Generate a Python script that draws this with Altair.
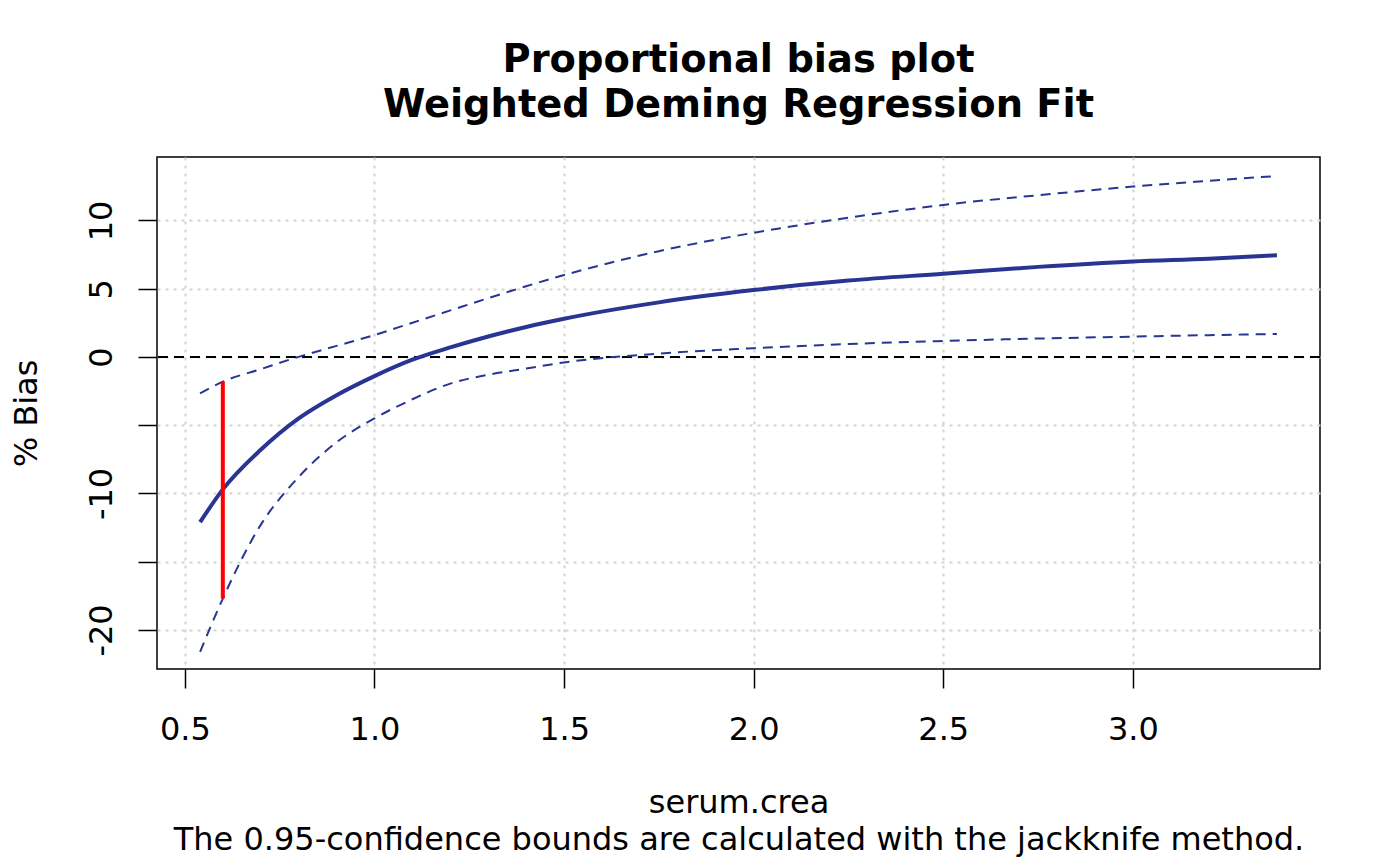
import altair as alt
import pandas as pd

# ---- data ----
serum_crea = [0.54, 0.6, 0.7, 0.8, 0.9, 1.0, 1.1, 1.2, 1.3, 1.4, 1.5, 1.75, 2.0, 2.25, 2.5, 2.75, 3.0, 3.2, 3.38]
bias = [-12.1, -9.7, -6.8, -4.5, -2.8, -1.4, -0.2, 0.7, 1.5, 2.2, 2.8, 4.0, 4.9, 5.6, 6.1, 6.6, 7.0, 7.2, 7.45]
upper = [-2.66, -1.81, -0.89, 0.01, 0.81, 1.61, 2.51, 3.41, 4.31, 5.18, 6.0, 7.75, 9.1, 10.2, 11.14, 11.85, 12.48, 12.91, 13.26]
lower = [-21.6, -17.7, -12.3, -8.8, -6.25, -4.5, -3.1, -1.95, -1.3, -0.85, -0.4, 0.25, 0.64, 0.95, 1.17, 1.35, 1.49, 1.6, 1.68]

mark_x = [0.6]
mark_lo = [-17.7]
mark_hi = [-1.8]

x_ticks = [0.5, 1.0, 1.5, 2.0, 2.5, 3.0]
y_ticks = [-20, -15, -10, -5, 0, 5, 10]

title_lines = ["Proportional bias plot", "Weighted Deming Regression Fit"]
x_title = ["serum.crea", "The 0.95-confidence bounds are calculated with the jackknife method."]
y_title = "% Bias"

df = pd.DataFrame({"x": serum_crea, "bias": bias, "upper": upper, "lower": lower})
seg = pd.DataFrame({"x": mark_x, "lo": mark_lo, "hi": mark_hi})

FONT = "DejaVu Sans"
BLUE = "#283593"

xscale = alt.Scale(domain=[0.4264, 3.4936], nice=False, zero=False)
yscale = alt.Scale(domain=[-22.86, 14.65], nice=False, zero=False)

xaxis = alt.Axis(
    values=x_ticks, format=".1f", title=x_title, domain=False,
    grid=True, gridColor="#D3D3D3", gridDash=[3, 5], gridWidth=2,
    tickSize=19, tickColor="black", tickWidth=1.5,
    labelFont=FONT, labelFontSize=32, labelPadding=26, labelColor="black",
    labelFlush=False, labelOverlap=False,
    titleFont=FONT, titleFontSize=32, titleFontWeight="normal", titleColor="black",
    titlePadding=42, titleLineHeight=37,
)
yaxis = alt.Axis(
    values=y_ticks, title=y_title, domain=False,
    labelExpr="datum.value == -5 || datum.value == -15 ? '' : '' + datum.value",
    grid=True, gridColor="#D3D3D3", gridDash=[3, 5], gridWidth=2,
    tickSize=19, tickColor="black", tickWidth=1.5,
    labelFont=FONT, labelFontSize=32, labelPadding=20, labelColor="black",
    labelAngle=270, labelAlign="center", labelBaseline="bottom",
    labelFlush=False, labelOverlap=False,
    titleFont=FONT, titleFontSize=32, titleFontWeight="normal", titleColor="black",
    titleAngle=270, titleBaseline="bottom", titlePadding=42,
)

base = alt.Chart(df)

main = base.mark_line(color=BLUE, strokeWidth=4, interpolate="monotone").encode(
    x=alt.X("x:Q", scale=xscale, axis=xaxis),
    y=alt.Y("bias:Q", scale=yscale, axis=yaxis),
)
up = base.mark_line(color=BLUE, strokeWidth=2, strokeDash=[10, 7], interpolate="monotone").encode(
    x="x:Q", y="upper:Q"
)
lo = base.mark_line(color=BLUE, strokeWidth=2, strokeDash=[10, 7], interpolate="monotone").encode(
    x="x:Q", y="lower:Q"
)
zero = base.mark_rule(color="black", strokeWidth=2, strokeDash=[10, 6]).encode(y=alt.datum(0))
red = alt.Chart(seg).mark_rule(color="#FF0000", strokeWidth=4).encode(
    x="x:Q", y="lo:Q", y2="hi:Q"
)

chart = alt.layer(zero, up, lo, main, red).properties(
    width=1163, height=512,
    background="white",
    title=alt.TitleParams(
        title_lines, font=FONT, fontSize=38.4, fontWeight="bold", color="black",
        anchor="middle", baseline="bottom", offset=32, dy=38, lineHeight=45,
    ),
    autosize=alt.AutoSizeParams(type="none"),
    padding={"left": 149, "top": 149, "right": 20, "bottom": 189},
).configure_view(stroke="black", strokeWidth=1.5)

chart.save("out.html", embed_options={"renderer": "svg", "actions": False})
